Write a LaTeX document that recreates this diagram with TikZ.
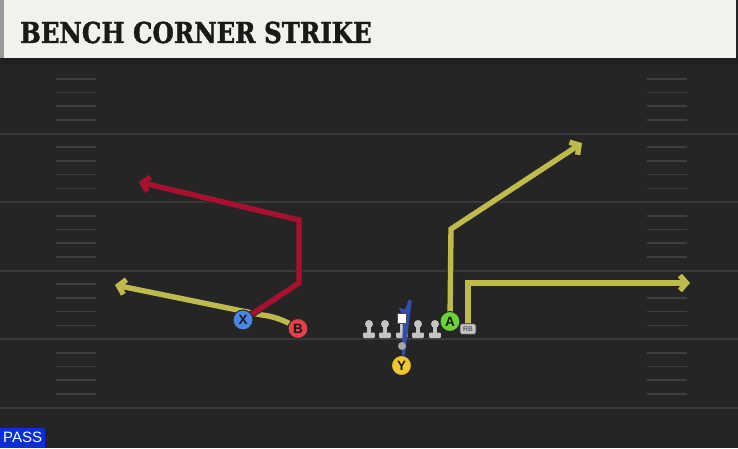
\documentclass[tikz,border=0pt]{standalone}
\usepackage{fontspec}
\setmainfont{Liberation Sans}
\newfontfamily\titlefont[BoldFeatures={FakeBold=1.3,FakeStretch=0.85}]{DejaVu Serif}
\usetikzlibrary{arrows.meta}
\definecolor{fieldbg}{HTML}{252525}
\definecolor{yardline}{HTML}{3A3A3A}
\definecolor{hashcol}{HTML}{3E3E3E}
\definecolor{titlebg}{HTML}{F3F1EB}
\definecolor{routeyel}{HTML}{BEBB4C}
\definecolor{routered}{HTML}{A8102F}
\definecolor{motionblue}{HTML}{2F4FAA}
\definecolor{pblue}{HTML}{4A86E8}
\definecolor{pred}{HTML}{E8404A}
\definecolor{pyel}{HTML}{F2C62F}
\definecolor{pgreen}{HTML}{6BD33A}
\definecolor{lgray}{HTML}{C4C4C4}
\definecolor{passblue}{HTML}{0B2FD6}
\tikzset{
  player/.style={circle, draw=black!85, line width=1pt, minimum size=20pt, inner sep=0pt, font=\bfseries\fontsize{13.5}{13.5}\selectfont, text=black!90},
  rbbox/.style={draw=black!80, fill=lgray, rounded corners=2pt, minimum width=16pt, minimum height=10.5pt, inner sep=0pt, font=\fontsize{7}{7}\selectfont, text=black!80, line width=0.6pt},
  routeline/.style={line width=5.4pt, line join=miter, preaction={draw=black!85, line width=7.2pt}},
  yroute/.style={routeline, draw=routeyel, -{Straight Barb[length=6.5pt,width=15pt]}},
  rroute/.style={routeline, draw=routered, -{Straight Barb[length=6.5pt,width=15pt]}},
  yard/.style={draw=yardline, line width=2pt},
  hashmark/.style={draw=hashcol, line width=1.6pt},
  lineman/.style={fill=lgray}
}
\begin{document}
\begin{tikzpicture}[x=1pt,y=-1pt]
\useasboundingbox (0,0) rectangle (738,448);
% field
\fill[fieldbg] (0,0) rectangle (738,448);
% yard lines
\foreach \yy in {133.5,202,270.5,338.5,407.5} \draw[yard] (0,\yy) -- (738,\yy);
% hash marks
\foreach \base in {65,133.5,202,270.5,339} {
  \foreach \k in {1,2,3,4} {
    \draw[hashmark] (56,\base+13.7*\k) -- (96,\base+13.7*\k);
    \draw[hashmark] (647,\base+13.7*\k) -- (687,\base+13.7*\k);
  }
}
% title bar
\fill[black!88] (0,56) rectangle (738,64);
\fill[titlebg] (4,0) rectangle (736,58);
\fill[black!40] (0,0) rectangle (4,58);
\node[anchor=west, inner sep=0pt, text=black!90] (title) at (20,32.5)
  {\titlefont\bfseries\fontsize{28.8}{28.8}\selectfont BENCH CORNER STRIKE};
% linemen
\foreach \lx in {369,385,418,435} {
  \fill[lineman] (\lx,324) circle (4);
  \fill[lineman] (\lx-1.8,324) rectangle (\lx+1.8,334);
  \fill[lineman, rounded corners=1pt] (\lx-5.8,332.5) rectangle (\lx+5.8,338);
}
% center
\fill[lineman] (401.9-1.8,321) rectangle (401.9+1.8,334);
\fill[lineman, rounded corners=1pt] (401.9-5.8,332.5) rectangle (401.9+5.8,338);
% blue motion
\fill[motionblue] (401.6,357) -- (403.3,316) -- (398.5,307.5) -- (405,309.5) -- (408.8,299.5) -- (411.8,300.5) -- (404.6,357) -- cycle;
\node[draw=black!70, fill=white, minimum size=9.5pt, inner sep=0pt, line width=0.5pt] (center) at (401.5,318) {};
% QB dot
\node[circle, fill=gray!70, minimum size=8pt, inner sep=0pt] (qb) at (402,346) {};
% route end coordinates
\coordinate (xturn1) at (299,283);
\coordinate (xturn2) at (299,220);
\coordinate (xend) at (139,182);
\coordinate (bcurve) at (262,315);
\coordinate (bend) at (115,285);
\coordinate (aturn) at (451,229);
\coordinate (aend) at (582,143);
\coordinate (rbturn) at (468,283);
\coordinate (rbend) at (690,283);
\coordinate (Bpos) at (298,328.5);
\coordinate (Xpos) at (243,320);
\coordinate (Apos) at (450,321.5);
\coordinate (RBpos) at (468,329);
% routes
\draw[yroute] (Bpos) .. controls (285,320) and (272,316) .. (bcurve) -- (bend);
\draw[rroute] (Xpos) -- (xturn1) -- (xturn2) -- (xend);
\draw[yroute] (Apos) -- (aturn) -- (aend);
\draw[yroute] (RBpos) -- (rbturn) -- (rbend);
% players
\node[player, fill=pblue] (X) at (Xpos) {X};
\node[player, fill=pred] (B) at (Bpos) {B};
\node[player, fill=pyel] (Y) at (401.5,365.5) {Y};
\node[player, fill=pgreen] (A) at (Apos) {A};
\node[rbbox] (RB) at (RBpos) {RB};
% PASS label
\node[fill=passblue, text=white, anchor=south west, minimum width=45pt, minimum height=20pt, inner sep=1pt, font=\fontsize{15}{15}\selectfont] (pass) at (0,448) {PASS};
\end{tikzpicture}
\end{document}
